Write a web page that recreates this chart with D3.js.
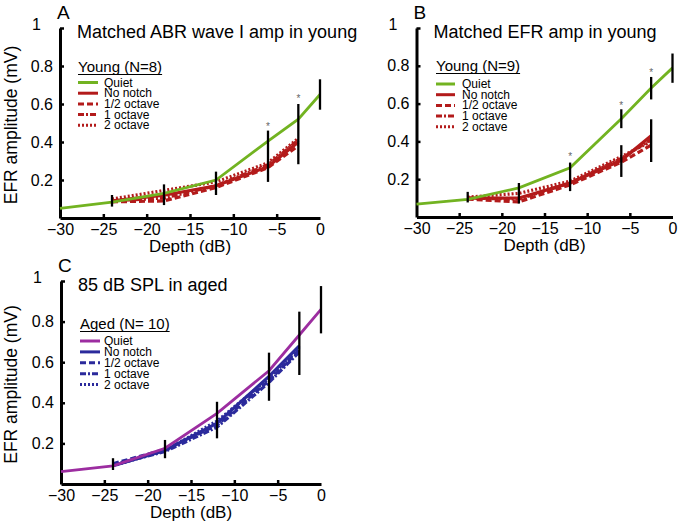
<!DOCTYPE html>
<html><head><meta charset="utf-8">
<script src="https://cdn.jsdelivr.net/npm/d3@7/dist/d3.min.js"></script>
<style>
html,body{margin:0;padding:0;background:#fff;}
svg{display:block;font-family:"Liberation Sans",Arial,Helvetica,sans-serif;}
</style></head>
<body><svg id="chart" width="685" height="526"></svg>
<script>
// ---------- data ----------
const quietDepths = [-30, -24, -18, -12, -6, -2.5, 0];
const notchDepths = [-24, -18, -12, -6, -2.5];
const seriesNames = ["Quiet", "No notch", "1/2 octave", "1 octave", "2 octave"];
const xTicks = [-30, -25, -20, -15, -10, -5, 0];
const yTicks = [0.2, 0.4, 0.6, 0.8, 1];

// Panel A: matched ABR wave I amp in young (N=8)
const quietA   = [0.051, 0.084, 0.13, 0.20, 0.405, 0.52, 0.65];
const noNotchA = [0.09, 0.12, 0.17, 0.27, 0.40];
const halfOctA = [0.085, 0.09, 0.16, 0.265, 0.38];
const oneOctA  = [0.09, 0.105, 0.17, 0.28, 0.41];
const twoOctA  = [0.10, 0.145, 0.19, 0.29, 0.42];
const errDepthA = [-24, -18, -12, -6, -2.5, 0];
const errLowA   = [0.06, 0.068, 0.121, 0.19, 0.283, 0.57];
const errHighA  = [0.121, 0.177, 0.244, 0.46, 0.60, 0.73];
const starDepthA = [-6, -2.5];
const starValA   = [0.49, 0.635];

// Panel B: matched EFR amp in young (N=9)
const quietB   = [0.068, 0.093, 0.154, 0.26, 0.52, 0.683, 0.789];
const noNotchB = [0.10, 0.10, 0.18, 0.30, 0.43];
const halfOctB = [0.095, 0.08, 0.17, 0.29, 0.38];
const oneOctB  = [0.10, 0.095, 0.18, 0.31, 0.41];
const twoOctB  = [0.105, 0.125, 0.19, 0.32, 0.40];
const errDepthB = [-24, -18, -12, -6, -6, -2.5, -2.5, 0];
const errLowB   = [0.077, 0.071, 0.137, 0.212, 0.47, 0.291, 0.622, 0.71];
const errHighB  = [0.133, 0.18, 0.288, 0.38, 0.57, 0.517, 0.741, 0.865];
const starDepthB = [-12, -6, -2.5];
const starValB   = [0.327, 0.60, 0.773];

// Panel C: 85 dB SPL in aged (N=10)
const quietC   = [0.061, 0.089, 0.176, 0.348, 0.558, 0.734, 0.86];
const noNotchC = [0.09, 0.165, 0.30, 0.53, 0.68];
const halfOctC = [0.10, 0.17, 0.29, 0.51, 0.66];
const oneOctC  = [0.095, 0.16, 0.28, 0.50, 0.65];
const twoOctC  = [0.09, 0.165, 0.31, 0.52, 0.67];
const errDepthC = [-24, -18, -12, -6, -2.5, 0];
const errLowC   = [0.069, 0.127, 0.225, 0.41, 0.537, 0.742];
const errHighC  = [0.127, 0.217, 0.405, 0.647, 0.849, 0.975];
const starDepthC = [];
const starValC   = [];

// ---------- styling / layout ----------
const green = "#72b321", red = "#b31b1b", purple = "#9c2da0", blue = "#2b2a9c";
const dashes = [null, null, "6,3", "6,2,2,2", "2,2"];

const panels = [
  {letter:"A", title:"Matched ABR wave I amp in young", header:"Young (N=8)",
   x0:60, x1:320, yB:218, yT:28, ylabel:true,
   quiet:quietA, notch:[noNotchA, halfOctA, oneOctA, twoOctA], quietColor:green, notchColor:red,
   errD:errDepthA, errL:errLowA, errH:errHighA, starD:starDepthA, starV:starValA,
   leg:{x:78, hy:72, lineW:20, tx:104, y0:82.5, dy:10.7}},
  {letter:"B", title:"Matched EFR amp in young", header:"Young (N=9)",
   x0:416.5, x1:672.5, yB:217, yT:28, ylabel:false,
   quiet:quietB, notch:[noNotchB, halfOctB, oneOctB, twoOctB], quietColor:green, notchColor:red,
   errD:errDepthB, errL:errLowB, errH:errHighB, starD:starDepthB, starV:starValB,
   leg:{x:436, hy:71, lineW:19, tx:462, y0:84, dy:10.7}},
  {letter:"C", title:"85 dB SPL in aged", header:"Aged (N= 10)",
   x0:61, x1:321, yB:484, yT:281, ylabel:true,
   quiet:quietC, notch:[noNotchC, halfOctC, oneOctC, twoOctC], quietColor:purple, notchColor:blue,
   errD:errDepthC, errL:errLowC, errH:errHighC, starD:starDepthC, starV:starValC,
   leg:{x:80, hy:329, lineW:20, tx:104, y0:341, dy:10.9}}
];

const svg = d3.select("#chart");

panels.forEach(p => {
  const x = d3.scaleLinear().domain([-30, 0]).range([p.x0, p.x1]);
  const y = d3.scaleLinear().domain([0, 1]).range([p.yB, p.yT]);
  const g = svg.append("g");

  // axes
  const xa = d3.axisBottom(x).tickValues(xTicks).tickSizeInner(-4).tickSizeOuter(0).tickPadding(6)
    .tickFormat(d => d === 0 ? "0" : "\u2212" + Math.abs(d));
  const gx = g.append("g").attr("transform", `translate(0,${p.yB})`).call(xa);
  gx.select(".domain").attr("stroke", "#000").attr("stroke-width", 3);
  gx.selectAll(".tick line").attr("stroke", "#000").attr("stroke-width", 2.5)
    .filter(d => d === -30 || d === 0).remove();
  gx.selectAll(".tick text").attr("font-size", 16).attr("fill", "#000")
    .attr("font-family", "Liberation Sans, Arial, sans-serif");

  const ya = d3.axisLeft(y).tickValues(yTicks).tickSizeInner(-4).tickSizeOuter(0).tickPadding(7)
    .tickFormat(d => d === 1 ? "1" : d3.format(".1f")(d));
  const gy = g.append("g").attr("transform", `translate(${p.x0},0)`).call(ya);
  gy.select(".domain").attr("stroke", "#000").attr("stroke-width", 3);
  gy.selectAll(".tick line").attr("stroke", "#000").attr("stroke-width", 2.5);
  gy.selectAll(".tick text").attr("font-size", 16).attr("fill", "#000")
    .attr("font-family", "Liberation Sans, Arial, sans-serif");
  gy.selectAll(".tick text").filter(d => d === 1).attr("dx", -12).attr("dy", "0.1em");

  // axis labels
  g.append("text").attr("x", (p.x0 + p.x1) / 2).attr("y", p.yB + 34)
    .attr("text-anchor", "middle").attr("font-size", 17).text("Depth (dB)");
  if (p.ylabel) {
    g.append("text").attr("transform", `translate(17,${(p.yB + p.yT) / 2 + 2}) rotate(-90)`)
      .attr("text-anchor", "middle").attr("font-size", 17.5).text("EFR amplitude (mV)");
  }
  // panel letter & title
  g.append("text").attr("x", p.x0 - 3).attr("y", p.yT - 9).attr("font-size", 19).text(p.letter);
  g.append("text").attr("x", p.x0 + 17).attr("y", p.yT + 10).attr("font-size", 18).text(p.title);

  // notch series
  const line = d3.line().x((d, i) => x(notchDepths[i])).y(d => y(d));
  p.notch.forEach((s, k) => {
    g.append("path").datum(s).attr("d", line).attr("fill", "none")
      .attr("stroke", p.notchColor).attr("stroke-width", 3.2)
      .attr("stroke-dasharray", dashes[k + 1]);
  });
  // quiet
  const qline = d3.line().x((d, i) => x(quietDepths[i])).y(d => y(d));
  g.append("path").datum(p.quiet).attr("d", qline).attr("fill", "none")
    .attr("stroke", p.quietColor).attr("stroke-width", 2.8);

  // error bars over lines
  p.errD.forEach((d, i) => {
    g.append("line").attr("x1", x(d)).attr("x2", x(d)).attr("y1", y(p.errL[i])).attr("y2", y(p.errH[i]))
      .attr("stroke", "#000").attr("stroke-width", 2.3);
  });

  // significance stars
  p.starD.forEach((d, i) => {
    g.append("text").attr("x", x(d)).attr("y", y(p.starV[i]) + 5).attr("text-anchor", "middle")
      .attr("font-size", 10).attr("fill", "#666").text("*");
  });

  // legend
  const L = p.leg;
  const ht = g.append("text").attr("x", L.x).attr("y", L.hy).attr("font-size", 15).text(p.header);
  const hw = ht.node().getComputedTextLength();
  g.append("line").attr("x1", L.x).attr("x2", L.x + hw).attr("y1", L.hy + 2.5).attr("y2", L.hy + 2.5)
    .attr("stroke", "#000").attr("stroke-width", 1);
  seriesNames.forEach((n, k) => {
    const cy = L.y0 + k * L.dy;
    g.append("line").attr("x1", L.x).attr("x2", L.x + L.lineW).attr("y1", cy).attr("y2", cy)
      .attr("stroke", k === 0 ? p.quietColor : p.notchColor).attr("stroke-width", 3)
      .attr("stroke-dasharray", dashes[k]);
    g.append("text").attr("x", L.tx).attr("y", cy + 4).attr("font-size", 12).text(n);
  });
});
</script></body></html>
